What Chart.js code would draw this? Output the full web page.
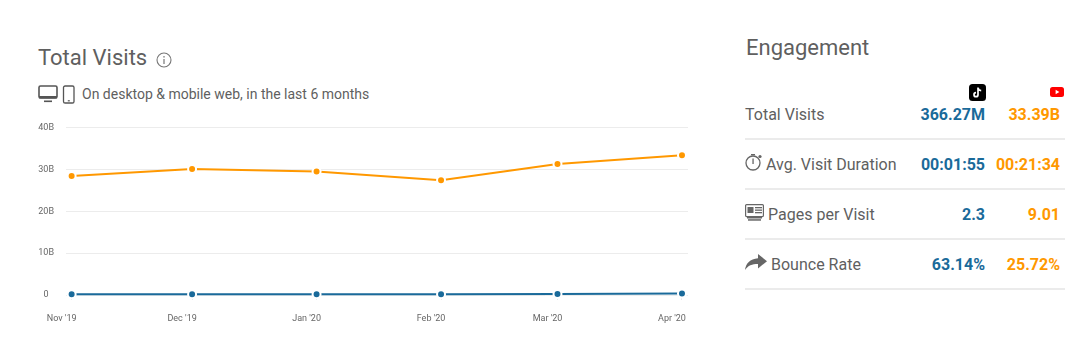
<!DOCTYPE html>
<html>
<head>
<meta charset="utf-8">
<script src="https://cdn.jsdelivr.net/npm/chart.js@4/dist/chart.umd.min.js"></script>
<style>
html, body { margin: 0; padding: 0; background: #fff; }
body { width: 1087px; height: 353px; position: relative; overflow: hidden; font-family: Roboto, sans-serif; color: #5f5f5f; }
.abs { position: absolute; white-space: nowrap; }
#wrap { position: absolute; left: 0; top: 110px; width: 700px; height: 225px; }
.sep { position: absolute; left: 745px; width: 320px; height: 2px; background: #ebebeb; }
.val { position: absolute; font-size: 16px; font-weight: 700; line-height: 20px; text-align: right; white-space: nowrap; }
.lab { position: absolute; font-size: 16px; line-height: 20px; white-space: nowrap; }
svg { position: absolute; }
</style>
</head>
<body>
<div class="abs" style="left:38px;top:44px;font-size:22px;line-height:28px">Total Visits</div>
<svg style="left:156px;top:52px" width="16" height="16" viewBox="0 0 16 16">
  <circle cx="8" cy="8" r="7" fill="none" stroke="#777" stroke-width="1.1"/>
  <rect x="7.4" y="7" width="1.2" height="5" fill="#777"/><rect x="7.4" y="4" width="1.2" height="1.6" fill="#777"/>
</svg>
<svg style="left:38px;top:85px" width="40" height="19" viewBox="0 0 40 19">
  <rect x="1" y="1" width="18" height="12" rx="1.5" fill="none" stroke="#555" stroke-width="1.6"/>
  <rect x="1" y="11" width="18" height="2.4" fill="#555"/>
  <rect x="6" y="15.5" width="8" height="1.6" fill="#555"/>
  <rect x="25.5" y="1" width="10.5" height="17" rx="1.6" fill="none" stroke="#555" stroke-width="1.3"/>
  <rect x="29.8" y="15.2" width="2" height="1.2" fill="#555"/>
</svg>
<div class="abs" style="left:82px;top:85px;font-size:14px;line-height:18px">On desktop &amp; mobile web, in the last 6 months</div>

<div id="wrap"><canvas id="visits"></canvas></div>

<div class="abs" style="left:746px;top:34px;font-size:22px;line-height:28px">Engagement</div>

<svg style="left:969px;top:84px" width="17" height="17" viewBox="0 0 17 17">
  <rect width="17" height="17" rx="3.5" fill="#000"/>
  <path d="M9 3.5v7.2a2 2 0 1 1-2-2M9 3.5c.2 1.8 1.3 2.9 3.2 3.1" fill="none" stroke="#fff" stroke-width="1.7"/>
</svg>
<svg style="left:1050px;top:87px" width="14" height="10" viewBox="0 0 14 10">
  <rect width="14" height="10" rx="2.5" fill="#f00"/><path d="M5.6 2.8v4.4L9.4 5z" fill="#fff"/>
</svg>

<svg style="left:745px;top:153px" width="18" height="18" viewBox="0 0 18 18">
  <circle cx="8" cy="10" r="7" fill="none" stroke="#666" stroke-width="1.3"/>
  <rect x="7.4" y="5.5" width="1.3" height="5.5" fill="#666"/><rect x="6" y="1" width="4" height="1.4" fill="#666"/>
  <circle cx="15" cy="3.5" r="1.6" fill="#666"/>
</svg>
<svg style="left:745px;top:204px" width="19" height="17" viewBox="0 0 19 17">
  <rect x="0.6" y="0.6" width="17.8" height="12" rx="1" fill="none" stroke="#666" stroke-width="1.2"/>
  <rect x="2.5" y="3" width="6" height="6" fill="#666"/>
  <rect x="10" y="3" width="7" height="1.3" fill="#666"/><rect x="10" y="5.5" width="7" height="1.3" fill="#666"/><rect x="10" y="8" width="7" height="1.3" fill="#666"/>
  <rect x="2" y="13" width="15" height="1.5" fill="#666"/><rect x="3" y="15.2" width="13" height="1.5" fill="#666"/>
</svg>
<svg style="left:745px;top:254px" width="22" height="16" viewBox="0 0 22 16">
  <path d="M13 0l9 7.2-9 7.2V10C7 10 3 11.5 0 16c.8-6.5 5-11.2 13-11.8z" fill="#666"/>
</svg>

<script>
// valores
const months = ["Nov '19", "Dec '19", "Jan '20", "Feb '20", "Mar '20", "Apr '20"]
const monthDays = [0, 30, 61, 92, 121, 152]
const tiktokVisits = [0.15e9, 0.17e9, 0.18e9, 0.2e9, 0.26e9, 0.36627e9]
const youtubeVisits = [28.4e9, 30.1e9, 29.5e9, 27.4e9, 31.3e9, 33.39e9]
const yTicks = [0, 10e9, 20e9, 30e9, 40e9]
const yTickLabels = ['0', '10B', '20B', '30B', '40B']

const rowLabels = ['Total Visits', 'Avg. Visit Duration', 'Pages per Visit', 'Bounce Rate']
const rowLabelX = [745, 766, 768, 771]
const tiktokStats = ['366.27M', '00:01:55', '2.3', '63.14%']
const youtubeStats = ['33.39B', '00:21:34', '9.01', '25.72%']

const BLUE = '#1a6a9a'
const ORANGE = '#ff9800'

// tabla de la derecha
for (let i = 0; i < rowLabels.length; i++) {
    let y = 105 + i * 50
    let lab = document.createElement('div')
    lab.className = 'lab'
    lab.textContent = rowLabels[i]
    lab.style.left = rowLabelX[i] + 'px'
    lab.style.top = y + 'px'
    document.body.appendChild(lab)

    let a = document.createElement('div')
    a.className = 'val'
    a.textContent = tiktokStats[i]
    a.style.right = (1087 - 985) + 'px'
    a.style.top = y + 'px'
    a.style.color = BLUE
    document.body.appendChild(a)

    let b = document.createElement('div')
    b.className = 'val'
    b.textContent = youtubeStats[i]
    b.style.right = (1087 - 1060) + 'px'
    b.style.top = y + 'px'
    b.style.color = ORANGE
    document.body.appendChild(b)

    let sep = document.createElement('div')
    sep.className = 'sep'
    sep.style.top = (138 + i * 50) + 'px'
    document.body.appendChild(sep)
}

function toPoints(values) {
    return values.map(function (v, i) { return { x: monthDays[i], y: v } })
}

function lineSet(label, values, color) {
    return {
        label: label,
        data: toPoints(values),
        borderColor: color,
        backgroundColor: color,
        borderWidth: 2,
        clip: false,
        pointRadius: 4,
        pointBorderColor: '#fff',
        pointBorderWidth: 2,
        pointBackgroundColor: color,
        tension: 0
    }
}

new Chart(document.getElementById('visits'), {
    type: 'line',
    data: {
        datasets: [lineSet('YouTube', youtubeVisits, ORANGE), lineSet('TikTok', tiktokVisits, BLUE)]
    },
    options: {
        responsive: true,
        maintainAspectRatio: false,
        animation: false,
        layout: { padding: { top: 17.5, right: 12, bottom: 0, left: 0 } },
        plugins: { legend: { display: false }, tooltip: { enabled: false } },
        scales: {
            x: {
                type: 'linear',
                min: -1.4,
                max: 153.5,
                afterBuildTicks: function (axis) {
                    axis.ticks = monthDays.map(function (d) { return { value: d } })
                },
                // sin el margen extra que agrega la ultima etiqueta
                afterFit: function (axis) { axis.height = 40; axis.paddingRight = 0; axis.paddingLeft = 0 },
                grid: { drawOnChartArea: false, color: '#e8e8e8', tickLength: 5 },
                border: { display: false },
                ticks: {
                    autoSkip: false,
                    maxRotation: 0,
                    padding: 13,
                    labelOffset: -10,
                    color: '#666',
                    font: { family: 'Roboto', size: 9 },
                    callback: function (v) { return months[monthDays.indexOf(v)] }
                }
            },
            y: {
                min: 0,
                max: 40e9,
                afterBuildTicks: function (axis) {
                    axis.ticks = yTicks.map(function (v) { return { value: v } })
                },
                afterFit: function (axis) { axis.width = 66 },
                grid: { color: '#ececec', drawTicks: false },
                border: { display: false },
                ticks: {
                    padding: 12,
                    crossAlign: 'center',
                    color: '#666',
                    font: { family: 'Roboto', size: 9 },
                    callback: function (v) { return yTickLabels[yTicks.indexOf(v)] }
                }
            }
        }
    }
})
</script>
</body>
</html>
